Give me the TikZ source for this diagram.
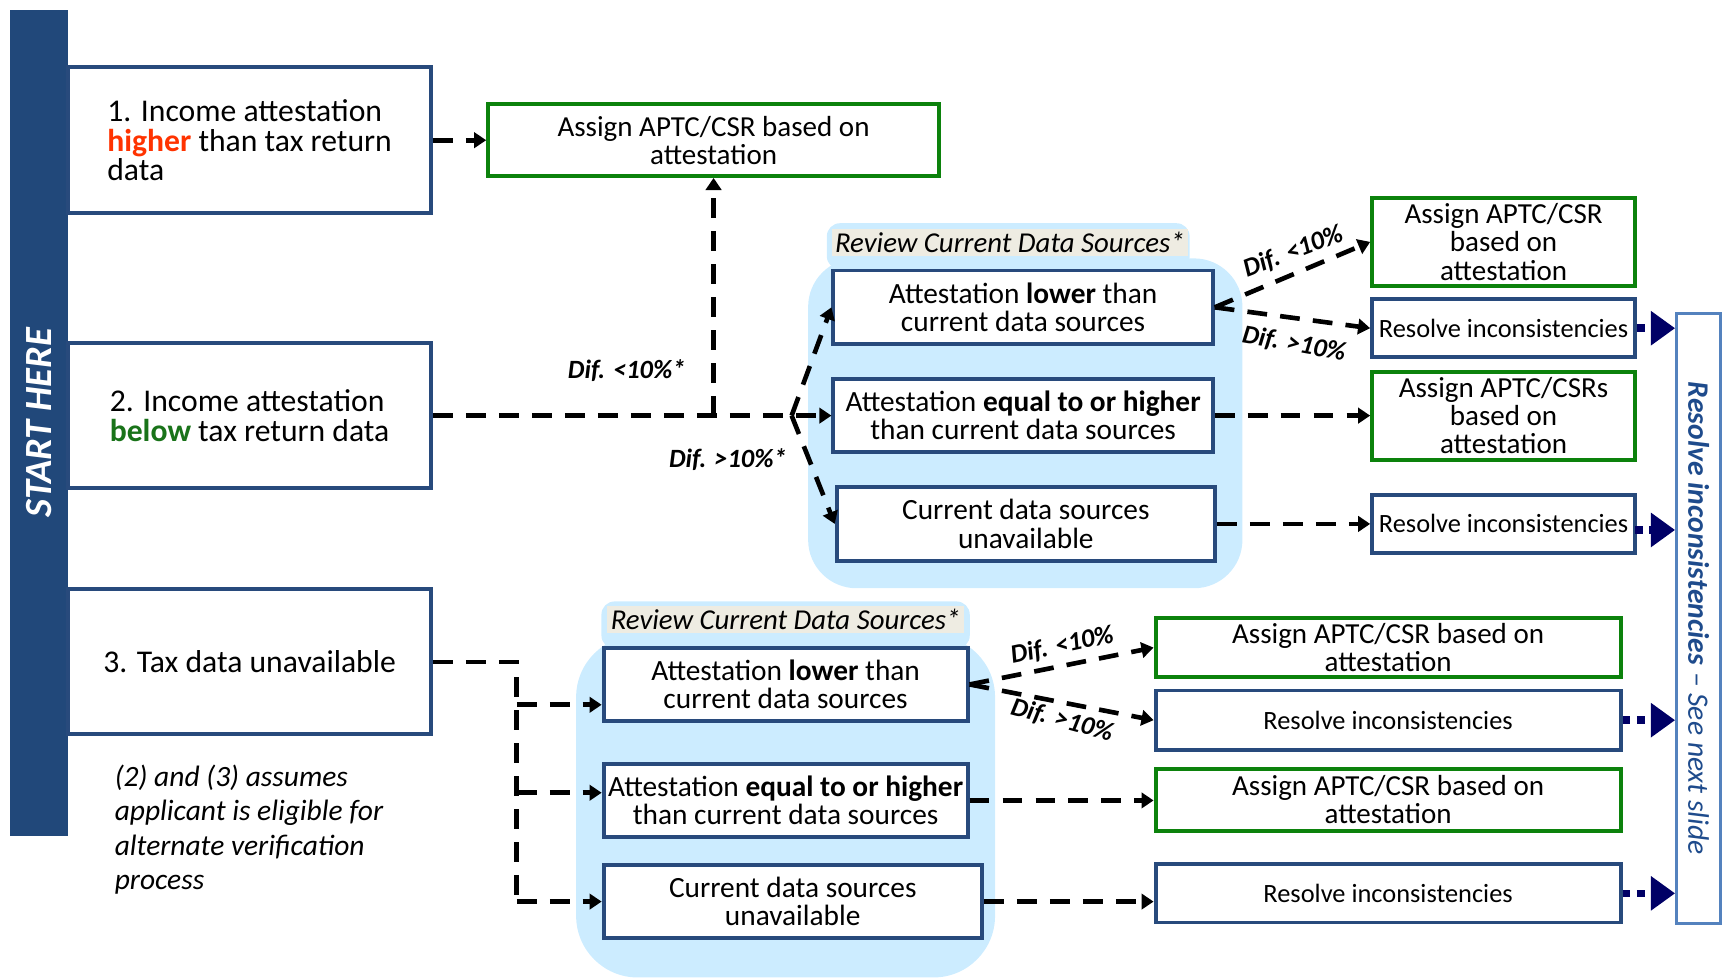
\documentclass[tikz,border=0pt]{standalone}
\usepackage{fontspec}
\setmainfont{Carlito}
\usetikzlibrary{arrows.meta}
\definecolor{startblue}{RGB}{33,72,122}
\definecolor{boxblue}{RGB}{40,74,124}
\definecolor{boxgreen}{RGB}{12,130,12}
\definecolor{hired}{RGB}{255,51,0}
\definecolor{belowgreen}{RGB}{25,115,25}
\definecolor{lightblue}{RGB}{204,236,255}
\definecolor{beige}{RGB}{238,236,226}
\definecolor{navyc}{RGB}{0,0,102}
\definecolor{barblue}{RGB}{84,130,190}
\definecolor{bartext}{RGB}{30,75,140}
\begin{document}
\begin{tikzpicture}[x=0.5pt,y=-0.5pt,
  box/.style={draw=boxblue, line width=1.8pt, fill=white, inner sep=1pt, align=center,
    font=\fontsize{13.35}{12.8}\selectfont},
  gbox/.style={box, draw=boxgreen, font=\fontsize{13.2}{12.8}\selectfont},
  rbox/.style={box, font=\fontsize{12}{12.8}\selectfont},
  sbox/.style={box, align=left, font=\fontsize{14.4}{13.5}\selectfont},
  lbl/.style={inner sep=0pt, font=\bfseries\itshape\fontsize{12}{13}\selectfont},
  tablbl/.style={fill=beige, inner sep=1.5pt, font=\itshape\fontsize{13.1}{14}\selectfont},
  dl/.style={line width=2.1pt, dash pattern=on 9pt off 6pt},
  arr/.style={dl, -{Triangle[length=5.5pt,width=7pt]}},
  navyarr/.style={draw=navyc, line width=3.5pt, dash pattern=on 3.5pt off 3pt,
    -{Triangle[length=11pt,width=15pt]}}
]
\useasboundingbox (0,0) rectangle (1568,890);

% start bar
\node[fill=startblue, rotate=90, minimum width=375.5pt, minimum height=26.5pt, inner sep=0pt,
  text=white, font=\bfseries\itshape\fontsize{17.5}{18}\selectfont] (start) at (35.5,384.5) {START HERE};

% left boxes
\node[sbox, minimum width=165pt, minimum height=66.5pt] (b1) at (227,127.5)
  {1. Income attestation\\{\color{hired}\textbf{higher}} than tax return\\data};
\node[sbox, minimum width=165pt, minimum height=66pt] (b2) at (227,378)
  {2. Income attestation\\{\color{belowgreen}\textbf{below}} tax return data};
\node[sbox, minimum width=165pt, minimum height=66pt] (b3) at (227,602)
  {3. Tax data unavailable};

\node[anchor=west, align=left, inner sep=0pt, font=\itshape\fontsize{13.4}{15.75}\selectfont] (note) at (104,754.5)
  {(2) and (3) assumes\\applicant is eligible for\\alternate verification\\process};

% top green
\node[gbox, minimum width=205pt, minimum height=32.5pt] (g0) at (649,127.5)
  {Assign APTC/CSR based on\\attestation};

% region 1
\fill[lightblue, rounded corners=22pt] (735,235) rectangle (1130,535);
\fill[lightblue, rounded corners=6pt] (752,203) rectangle (1082,245);
\node[tablbl] (tab1) at (918.5,220.5) {Review Current Data Sources*};

\node[box, minimum width=172.5pt, minimum height=33.5pt] (a1) at (930.5,279.5)
  {Attestation \textbf{lower} than\\current data sources};
\node[box, minimum width=172.5pt, minimum height=33pt] (a2) at (930.5,378)
  {Attestation \textbf{equal to or higher}\\than current data sources};
\node[box, minimum width=172pt, minimum height=33.5pt] (a3) at (933,476.5)
  {Current data sources\\unavailable};

\node[gbox, minimum width=119.5pt, minimum height=40pt] (r1) at (1367.5,220)
  {Assign APTC/CSR\\based on\\attestation};
\node[rbox, minimum width=119.5pt, minimum height=26.5pt] (r2) at (1367.5,298.5)
  {Resolve inconsistencies};
\node[gbox, minimum width=119.5pt, minimum height=40pt] (r3) at (1367.5,378)
  {Assign APTC/CSRs\\based on\\attestation};
\node[rbox, minimum width=119.5pt, minimum height=26.5pt] (r4) at (1367.5,476.5)
  {Resolve inconsistencies};

% region 2
\fill[lightblue, rounded corners=28pt] (524,578) rectangle (905,889);
\fill[lightblue, rounded corners=6pt] (547,547) rectangle (882,590);
\node[tablbl] (tab2) at (714.5,563.5) {Review Current Data Sources*};

\node[box, minimum width=165.5pt, minimum height=33.5pt] (l1) at (714.5,622.5)
  {Attestation \textbf{lower} than\\current data sources};
\node[box, minimum width=165.5pt, minimum height=33pt] (l2) at (714.5,728)
  {Attestation \textbf{equal to or higher}\\than current data sources};
\node[box, minimum width=172pt, minimum height=33pt] (l3) at (721,820)
  {Current data sources\\unavailable};

\node[gbox, minimum width=211.5pt, minimum height=27pt] (m1) at (1262.5,589)
  {Assign APTC/CSR based on\\attestation};
\node[rbox, minimum width=211.5pt, minimum height=27pt] (m2) at (1262.5,655)
  {Resolve inconsistencies};
\node[gbox, minimum width=211.5pt, minimum height=28.5pt] (m3) at (1262.5,727.5)
  {Assign APTC/CSR based on\\attestation};
\node[rbox, minimum width=211.5pt, minimum height=26.5pt] (m4) at (1262.5,812.5)
  {Resolve inconsistencies};

% right bar
\node[draw=barblue, line width=1.5pt, fill=white, rotate=-90, minimum width=277.5pt, minimum height=20pt,
  inner sep=0pt, text=bartext, font=\fontsize{13.5}{14}\selectfont] (bar) at (1545,562.5)
  {\textbf{\textit{Resolve inconsistencies}}\textit{ – See next slide}};

% connectors upper
\draw[arr] (b1.east) -- (g0.west);
\draw[arr] (b2.east) -- (a2.west);
\draw[arr] (g0.south |- b2.east) -- (g0.south);
\coordinate (j1) at (720,378);
\draw[arr] (j1) -- (a1.west);
\draw[arr] (j1) -- (a3.west);
\draw[arr] (a1.east) -- (r1.west);
\draw[arr] (a1.east) -- (r2.west);
\draw[arr] (a2.east) -- (r3.west);
\draw[arr] (a3.east) -- (r4.west);

% connectors lower
\coordinate (t1) at (470,602);
\coordinate (t2) at (470,820);
\coordinate (t3) at (470,641);
\coordinate (t4) at (470,721);
\draw[dl] (b3.east) -- (t1) -- (t2);
\draw[arr] (t3) -- (t3 -| l1.west);
\draw[arr] (t4) -- (t4 -| l2.west);
\draw[arr] (t2) -- (t2 -| l3.west);
\draw[arr] (l1.east) -- (m1.west);
\draw[arr] (l1.east) -- (m2.west);
\draw[arr] (l2.east) -- (l2.east -| m3.west);
\draw[arr] (l3.east) -- (l3.east -| m4.west);

% navy arrows
\coordinate (r4o) at (1487,482);
\draw[navyarr] (r2.east) -- (r2.east -| bar.south);
\draw[navyarr] (r4o) -- (r4o -| bar.south);
\draw[navyarr] (m2.east) -- (m2.east -| bar.south);
\draw[navyarr] (m4.east) -- (m4.east -| bar.south);

% labels
\node[lbl] (d1) at (570,337) {Dif. <10\%*};
\node[lbl] (d2) at (662,418) {Dif. >10\%*};
\node[lbl, rotate=21] (d3) at (1176,229) {Dif. <10\%};
\node[lbl, rotate=-10] (d4) at (1177,313) {Dif. >10\%};
\node[lbl, rotate=12] (d5) at (966,587) {Dif. <10\%};
\node[lbl, rotate=-15] (d6) at (966,655) {Dif. >10\%};
\end{tikzpicture}
\end{document}
